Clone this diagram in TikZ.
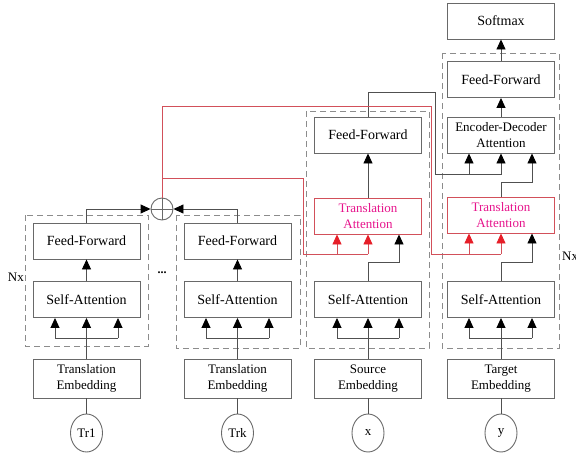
\documentclass[tikz,border=0pt]{standalone}
\usepackage{fontspec}
\setmainfont{Liberation Serif}
\usetikzlibrary{arrows.meta,calc,shapes.geometric}
\definecolor{boxgray}{RGB}{105,105,105}
\definecolor{lngray}{RGB}{80,80,80}
\definecolor{dashgray}{RGB}{140,140,140}
\definecolor{redln}{RGB}{210,80,90}
\definecolor{redtip}{RGB}{230,30,40}
\definecolor{tatext}{RGB}{230,20,140}
\begin{document}
\begin{tikzpicture}[x=1pt,y=-1pt,
  box/.style={draw=boxgray, line width=0.9pt, minimum width=107pt, minimum height=36pt, inner sep=0pt, font=\fontsize{14}{16}\selectfont, align=center, text=black},
  box2/.style={box, font=\fontsize{13}{15.7}\selectfont},
  tabox/.style={box2, draw=redln, text=tatext},
  ell/.style={draw=boxgray, line width=0.9pt, ellipse, minimum width=32pt, minimum height=38pt, inner sep=0pt, font=\fontsize{13}{15}\selectfont, text=black},
  ln/.style={draw=lngray, line width=0.9pt},
  arr/.style={ln, -{Triangle[width=9pt,length=10pt,color=black]}},
  rln/.style={draw=redln, line width=0.9pt},
  rarr/.style={rln, -{Triangle[width=9pt,length=10pt,color=redtip]}},
  dbox/.style={draw=dashgray, line width=1pt, dash pattern=on 6pt off 4pt},
  lbl/.style={inner sep=0pt, font=\fontsize{13}{15}\selectfont, text=black}]
\useasboundingbox (0,0) rectangle (576,453);

% dashed stacks
\draw[dbox] (25,215) rectangle (148,346);
\draw[dbox] (176,215) rectangle (300,348);
\draw[dbox] (306,111) rectangle (429,348);
\draw[dbox] (442,53) rectangle (559,348);

% column 1
\node[box] (ff1) at (86.5,241) {Feed-Forward};
\node[box] (sa1) at (86.5,299.5) {Self-Attention};
\node[box2, minimum height=39pt] (emb1) at (86.5,378.5) {Translation\\Embedding};
\node[ell] (tr1) at (86.5,433) {Tr1};

% column 2
\node[box] (ff2) at (237.5,241) {Feed-Forward};
\node[box] (sa2) at (237.5,299.5) {Self-Attention};
\node[box2, minimum height=39pt] (emb2) at (237.5,378.5) {Translation\\Embedding};
\node[ell] (trk) at (237.5,433) {Trk};

% column 3 (encoder)
\node[box] (ff3) at (368,135) {Feed-Forward};
\node[tabox] (ta3) at (368,216) {Translation\\Attention};
\node[box] (sa3) at (368,299.5) {Self-Attention};
\node[box2, minimum height=39pt] (emb3) at (368,378.5) {Source\\Embedding};
\node[ell] (xx) at (368,433) {x};

% column 4 (decoder)
\node[box] (sm) at (501,21) {Softmax};
\node[box] (ff4) at (501,79.5) {Feed-Forward};
\node[box2] (ed) at (501,135) {Encoder-Decoder\\Attention};
\node[tabox] (ta4) at (501,215) {Translation\\Attention};
\node[box] (sa4) at (501,299.5) {Self-Attention};
\node[box2, minimum height=39pt] (emb4) at (501,378.5) {Target\\Embedding};
\node[ell] (yy) at (501,433) {y};

% sum circle
\node[circle, draw=boxgray, line width=0.9pt, minimum size=22pt, inner sep=0pt] (cx) at (162,209) {};
\draw[draw=boxgray, line width=0.9pt] (cx.north) -- (cx.south) (cx.west) -- (cx.east);

% labels
\node[lbl, anchor=east] (nxl) at (24,277) {Nx};
\node[lbl, anchor=west] (nxr) at (562,256) {Nx};
\node[font=\fontsize{12}{12}\selectfont\bfseries] (dots) at (162,273) {...};

% input lines
\foreach \e/\b in {tr1/emb1, trk/emb2, xx/emb3, yy/emb4}
  \draw[ln] (\e.north) -- (\b.south);

% self-attention fans
\foreach \b/\s/\l/\r in {emb1/sa1/55/118, emb2/sa2/206/269, emb3/sa3/337/399, emb4/sa4/469/532}{
  \coordinate (fl) at (\l,338);
  \coordinate (fr) at (\r,338);
  \draw[arr] (\b.north) -- (\s.south);
  \draw[ln] (fl) -- (fr);
  \draw[arr] (fl) -- (fl |- \s.south);
  \draw[arr] (fr) -- (fr |- \s.south);
}

% columns 1,2
\draw[arr] (sa1.north) -- (ff1.south);
\draw[arr] (sa2.north) -- (ff2.south);
\draw[arr] (ff1.north) |- (cx.west);
\draw[arr] (ff2.north) |- (cx.east);

% column 3
\coordinate (t3r) at (399,262);
\draw[arr] (sa3.north) |- (t3r) -- (t3r |- ta3.south);
\draw[arr] (ta3.north) -- (ff3.south);
\coordinate (e1) at (435,92);
\coordinate (e2) at (501,174);
\coordinate (e3) at (469,174);
\draw[arr] (ff3.north) |- (e1) |- (e2) -- (e2 |- ed.south);
\draw[arr] (e3) -- (e3 |- ed.south);

% column 4
\coordinate (t4r) at (532,262);
\draw[arr] (sa4.north) |- (t4r) -- (t4r |- ta4.south);
\coordinate (d4r) at (532,182);
\draw[arr] (ta4.north) |- (d4r) -- (d4r |- ed.south);
\draw[arr] (ed.north) -- (ff4.south);
\draw[arr] (ff4.north) -- (sm.south);

% red translation paths
\coordinate (r1) at (431,106);
\coordinate (r2) at (501,254);
\coordinate (r3) at (469,254);
\draw[rln] (cx.north) |- (r1) |- (r2);
\draw[rarr] (r3) -- (r3 |- ta4.south);
\draw[rarr] (r2) -- (r2 |- ta4.south);
\coordinate (r4) at (162,178);
\coordinate (r5) at (303,254);
\coordinate (r6) at (368,254);
\coordinate (r7) at (337,254);
\draw[rln] (r4) -| (r5) -- (r6);
\draw[rarr] (r7) -- (r7 |- ta3.south);
\draw[rarr] (r6) -- (r6 |- ta3.south);
\end{tikzpicture}
\end{document}
